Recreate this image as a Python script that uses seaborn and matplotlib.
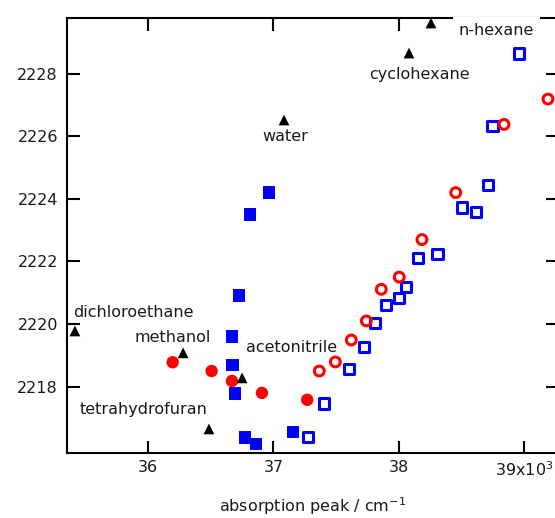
import numpy as np
import matplotlib
matplotlib.use("Agg")
import matplotlib.pyplot as plt
import seaborn as sns

# -----------------------------
# Data (absorption peak in 10^3 cm-1, vibrational frequency in cm-1)
# -----------------------------
solvents = ["n-hexane", "cyclohexane", "water", "dichloroethane",
            "methanol", "acetonitrile", "tetrahydrofuran"]
solv_x = [38.255, 38.08, 37.084, 35.418, 36.28, 36.75, 36.486]
solv_y = [2229.62, 2228.66, 2226.52, 2219.78, 2219.08, 2218.28, 2216.65]

red_filled_x = [36.197, 36.507, 36.669, 36.908, 37.269]
red_filled_y = [2218.78, 2218.50, 2218.18, 2217.80, 2217.58]

blue_filled_x = [36.964, 36.813, 36.725, 36.669, 36.675, 36.693, 36.775, 36.861, 37.155]
blue_filled_y = [2224.20, 2223.50, 2220.91, 2219.60, 2218.70, 2217.78, 2216.37, 2216.16, 2216.56]

blue_open_x = [37.277, 37.405, 37.602, 37.721, 37.811, 37.899, 38.000, 38.058,
               38.149, 38.308, 38.502, 38.616, 38.707, 38.744, 38.959]
blue_open_y = [2216.40, 2217.46, 2218.56, 2219.26, 2220.04, 2220.62, 2220.84, 2221.19,
               2222.12, 2222.24, 2223.72, 2223.58, 2224.45, 2226.33, 2228.65]

red_open_x = [37.365, 37.493, 37.620, 37.740, 37.859, 38.002, 38.183, 38.452, 38.837, 39.187]
red_open_y = [2218.50, 2218.79, 2219.49, 2220.10, 2221.11, 2221.50, 2222.70, 2224.20, 2226.38, 2227.19]

x_ticks = [36, 37, 38, 39]
x_ticklabels = ["36", "37", "38", "39x10$^3$"]
y_ticks = [2218, 2220, 2222, 2224, 2226, 2228]

# label offsets (pixels) relative to each triangle
label_pos = {
    "n-hexane": ((28, -7), "left"),
    "cyclohexane": ((10, -21), "center"),
    "water": ((1, -16), "center"),
    "dichloroethane": ((-2, 18), "left"),
    "methanol": ((-10, 15), "center"),
    "acetonitrile": ((4, 30), "left"),
    "tetrahydrofuran": ((-1, 19), "right"),
}

# -----------------------------
# Plot
# -----------------------------
sns.set_style("ticks")
plt.rcParams["font.family"] = ["DejaVu Sans"]

fig = plt.figure(figsize=(5.55, 5.18), dpi=100)
ax = fig.add_axes([67 / 555, 1 - 453 / 518, 491 / 555, 435 / 518])

sns.scatterplot(x=blue_filled_x, y=blue_filled_y, marker="s", s=80,
                color="#0000ff", edgecolor="none", ax=ax)
sns.scatterplot(x=red_filled_x, y=red_filled_y, marker="o", s=80,
                color="#ff0000", edgecolor="none", ax=ax)
sns.scatterplot(x=blue_open_x, y=blue_open_y, marker="s", s=55,
                facecolor="none", edgecolor="#0000ff", linewidth=2.2, ax=ax)
sns.scatterplot(x=red_open_x, y=red_open_y, marker="o", s=50,
                facecolor="none", edgecolor="#ff0000", linewidth=2.2, ax=ax)
sns.scatterplot(x=solv_x, y=solv_y, marker="^", s=60,
                color="black", edgecolor="none", ax=ax)

for name, x, y in zip(solvents, solv_x, solv_y):
    off, ha = label_pos[name]
    kw = {}
    if name == "n-hexane":
        kw = dict(bbox=dict(facecolor="white", edgecolor="none", pad=4))
    ax.annotate(name, (x, y), xytext=off, textcoords="offset pixels",
                ha=ha, va="center", fontsize=11.5, color="#1a1a1a",
                annotation_clip=False, zorder=5, **kw)

ax.set_xlim(35.355, 39.267)
ax.set_ylim(2215.88, 2229.78)
ax.set_xticks(x_ticks)
ax.set_xticklabels(x_ticklabels)
ax.set_yticks(y_ticks)

ax.tick_params(direction="in", length=9, width=1.5, top=True, right=True,
               labelsize=11.5, pad=5, colors="black", labelcolor="#1a1a1a")
ax.tick_params(axis="y", pad=6.5)
for sp in ax.spines.values():
    sp.set_linewidth(1.5)
    sp.set_color("black")

ax.set_xlabel("absorption peak / cm$^{-1}$", fontsize=11.5, labelpad=12,
              color="#1a1a1a")
ax.set_ylabel("")

fig.savefig("out.png", dpi=100)
